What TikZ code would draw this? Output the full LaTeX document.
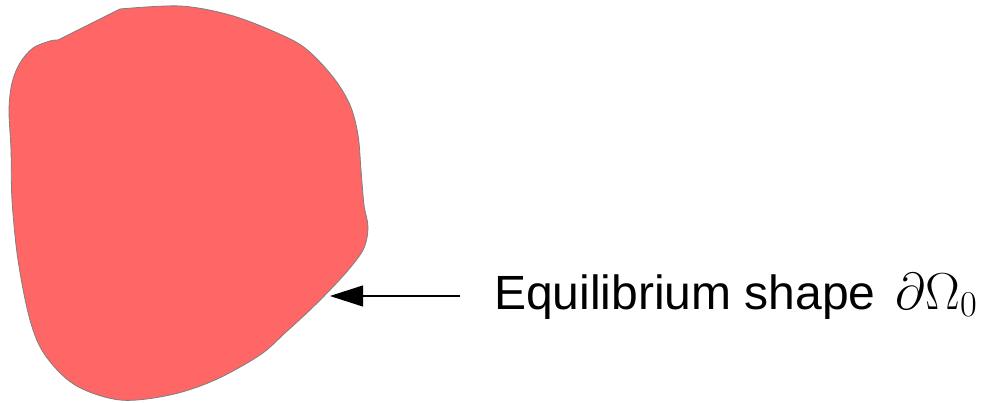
\RequirePackage{fix-cm}
\documentclass[tikz,border=0pt]{standalone}
\usepackage{fontspec}
\setmainfont{Liberation Sans}
\usetikzlibrary{arrows.meta}
\definecolor{blobred}{HTML}{FF6666}
\definecolor{blobline}{HTML}{7F7F7F}
\tikzset{
  blob/.style={fill=blobred, draw=blobline, line width=0.8pt},
  pointer/.style={draw=black, line width=1.1pt, -{Triangle[length=33pt,width=21pt]}},
  lbltext/.style={font=\fontsize{48}{54}\selectfont, inner sep=0pt, anchor=base west}
}
\begin{document}
\begin{tikzpicture}[x=1pt,y=-1pt]
\useasboundingbox (0,0) rectangle (987,403);
\draw[blob] (58,40) -- plot[smooth, tension=0.55] coordinates {
(120,9) (180,6) (230,15) (275,32) (305,48) (333,77) (350,105) (358,135)
(361,170) (364,205) (368,227) (364,248) (350,268) (330,290) (310,310)
(285,333) (260,355) (215,380) (170,395) (120,400) (75,385) (45,355)
(30,320) (18,260) (12,200) (11,150) (9,110) (12,83) (20,63) (33,48)
(50,41) (58,40)} -- cycle;
\node[lbltext] (lbl) at (494,309) {Equilibrium shape\hspace{20pt}{\fontsize{52}{58}\selectfont$\partial\Omega_0$}};
\coordinate (tail) at (460,296);
\coordinate (tip) at (330,296);
\draw[pointer] (tail) -- (tip);
\end{tikzpicture}
\end{document}
